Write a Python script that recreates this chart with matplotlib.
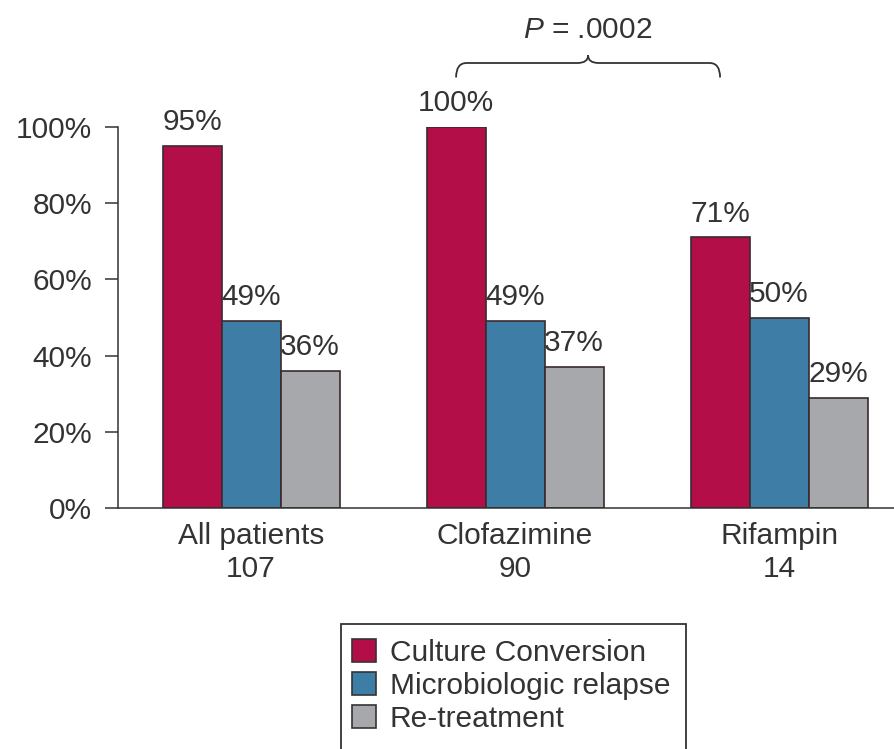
import matplotlib.pyplot as plt
from matplotlib.patches import Rectangle, Patch
from matplotlib.path import Path
from matplotlib.patches import PathPatch
import numpy as np

plt.rcParams['font.family'] = ['Liberation Sans', 'DejaVu Sans']
plt.rcParams['mathtext.fontset'] = 'custom'
plt.rcParams['mathtext.it'] = 'Liberation Sans:italic'
plt.rcParams['mathtext.rm'] = 'Liberation Sans'

groups = ['All patients\n107', 'Clofazimine\n90', 'Rifampin\n14']
series = ['Culture Conversion', 'Microbiologic relapse', 'Re-treatment']
culture = [95, 100, 71]
relapse = [49, 49, 50]
retreat = [36, 37, 29]
colors = ['#B30E47', '#3E7EA6', '#A6A8AB']
yticks = [0, 20, 40, 60, 80, 100]
ptext = r'$\it{P}$ = .0002'

txt = '#333333'
fs = 21.5
fig = plt.figure(figsize=(8.95, 7.49), dpi=100)
ax = fig.add_axes([118/895, 241/749, 1 - 118/895, (508-127)/749])

w = 0.2235
x = np.arange(len(groups))
for i, (vals, c) in enumerate(zip([culture, relapse, retreat], colors)):
    xs = x + (i - 1) * w
    ax.bar(xs, vals, width=w, color=c, edgecolor='#3a2a30', linewidth=1.2)
    for xx, v in zip(xs, vals):
        ax.text(xx, v + 2.6, f'{v}%', ha='center', va='bottom', fontsize=fs, color=txt)

ax.set_xlim(-0.504, 2.439)
ax.set_ylim(0, 100)
ax.set_yticks(yticks)
ax.set_yticklabels([f'{t}%' for t in yticks])
ax.set_xticks(x)
ax.set_xticklabels(groups, linespacing=1.25)
ax.tick_params(axis='y', length=9.5, width=1.1, color='#333333', labelsize=fs, labelcolor=txt, pad=9)
ax.tick_params(axis='x', length=0, labelsize=fs, labelcolor=txt, pad=10)
for s in ['top', 'right']:
    ax.spines[s].set_visible(False)
for s in ['left', 'bottom']:
    ax.spines[s].set_linewidth(1.1)
    ax.spines[s].set_color('#333333')

# brace between Clofazimine and Rifampin culture bars
x0, x1 = 1 - w, 2 - w
xm = (x0 + x1) / 2
yb, yl, yt = 113.0, 116.8, 118.8
r = 0.04
verts = [(x0, yb), (x0, yl), (x0 + r, yl),
         (xm - r, yl), (xm, yl), (xm, yt),
         (xm, yl), (xm + r, yl),
         (x1 - r, yl), (x1, yl), (x1, yb)]
codes = [Path.MOVETO, Path.CURVE3, Path.CURVE3,
         Path.LINETO, Path.CURVE3, Path.CURVE3,
         Path.CURVE3, Path.CURVE3,
         Path.LINETO, Path.CURVE3, Path.CURVE3]
ax.add_patch(PathPatch(Path(verts, codes), fill=False, edgecolor='#333333', lw=1.3, clip_on=False))
ax.text(xm, 121.8, ptext, ha='center', va='bottom', fontsize=fs, color=txt)

# legend box runs off the bottom of the figure
fig.patches.append(Rectangle((341/895, -0.05), (686-341)/895, 0.05 + 125/749,
                             transform=fig.transFigure, fill=False, edgecolor='#333333', lw=1.3))
handles = [Patch(facecolor=c, edgecolor='#333333', lw=1.2) for c in colors]
fig.legend(handles, series, loc='upper left', bbox_to_anchor=(352/895, 1 - 639/749),
           frameon=False, fontsize=21.5, handlelength=0.82, handleheight=0.82,
           handletextpad=0.45, labelspacing=0.16, borderpad=0, borderaxespad=0,
           labelcolor=txt)

fig.savefig('out.png', dpi=100)
